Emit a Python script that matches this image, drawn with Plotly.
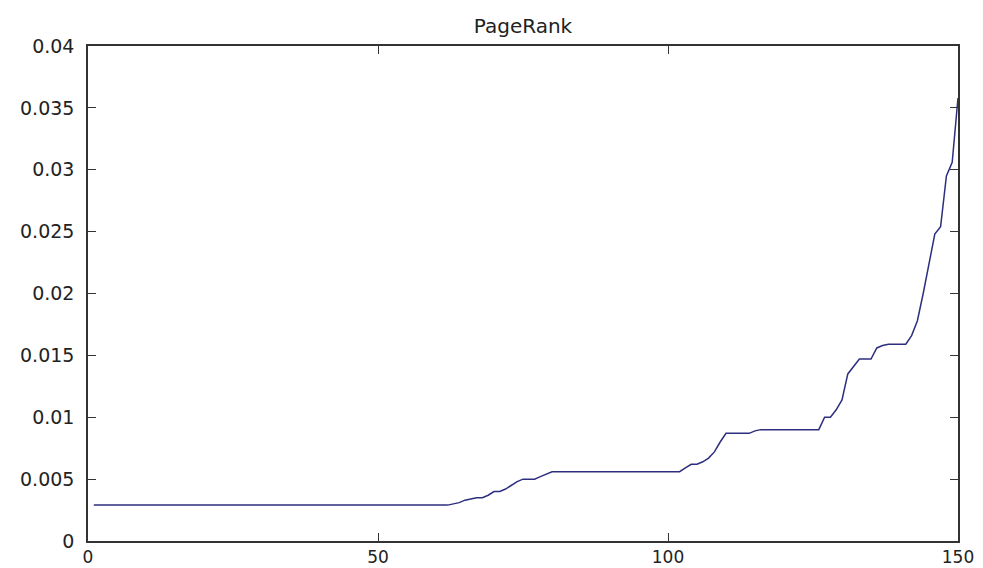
import plotly.graph_objects as go

# Sorted PageRank scores of 150 nodes (ascending)
base_rank = [0.0029] * 62
rise_1 = [0.0030, 0.0031, 0.0033, 0.0034, 0.0035, 0.0035, 0.0037, 0.0040,
          0.0040, 0.0042, 0.0045, 0.0048, 0.0050, 0.0050, 0.0050, 0.0052,
          0.0054, 0.0056]
plateau_1 = [0.0056] * 22
rise_2 = [0.0059, 0.0062, 0.0062, 0.0064, 0.0067, 0.0072, 0.0080, 0.0087,
          0.0087, 0.0087, 0.0087, 0.0087, 0.0089]
plateau_2 = [0.0090] * 11
tail = [0.0100, 0.0100, 0.0106, 0.0114, 0.0135, 0.0141, 0.0147, 0.0147,
        0.0147, 0.0156, 0.0158, 0.0159, 0.0159, 0.0159, 0.0159, 0.0166,
        0.0178, 0.0200, 0.0225, 0.0248, 0.0254, 0.0295, 0.0306, 0.0358]

page_rank = base_rank + rise_1 + plateau_1 + rise_2 + plateau_2 + tail
node_index = list(range(1, len(page_rank) + 1))

x_ticks = [0, 50, 100, 150]
y_ticks = [0, 0.005, 0.01, 0.015, 0.02, 0.025, 0.03, 0.035, 0.04]
y_tick_text = ["0", "0.005", "0.01", "0.015", "0.02", "0.025", "0.03", "0.035", "0.04"]

font_family = "DejaVu Sans"
axis_color = "#333333"

fig = go.Figure()
fig.add_trace(go.Scatter(
    x=node_index, y=page_rank, mode="lines",
    line=dict(color="#2e2e80", width=1.5),
    showlegend=False, hoverinfo="x+y",
))

axis_common = dict(
    showgrid=False, zeroline=False, automargin=False,
    showline=True, linecolor=axis_color, linewidth=1.5, mirror="ticks",
    ticks="inside", ticklen=8, tickwidth=1.2, tickcolor=axis_color,
)

fig.update_layout(
    width=983, height=568,
    margin=dict(l=88, r=25, t=46, b=27),
    paper_bgcolor="white", plot_bgcolor="white",
    title=dict(text="PageRank", x=0.5, xanchor="center", xref="paper",
               y=0.955, yanchor="middle",
               font=dict(family=font_family, size=20, color="#222222")),
    xaxis=dict(range=[0, 150], tickvals=x_ticks, ticklabelstandoff=0,
               tickfont=dict(family=font_family, size=17, color="#222222"),
               **axis_common),
    yaxis=dict(range=[0, 0.04], tickvals=y_ticks, ticktext=y_tick_text,
               ticklabelstandoff=8,
               tickfont=dict(family=font_family, size=19, color="#222222"),
               **axis_common),
)

fig.write_html("out.html")
